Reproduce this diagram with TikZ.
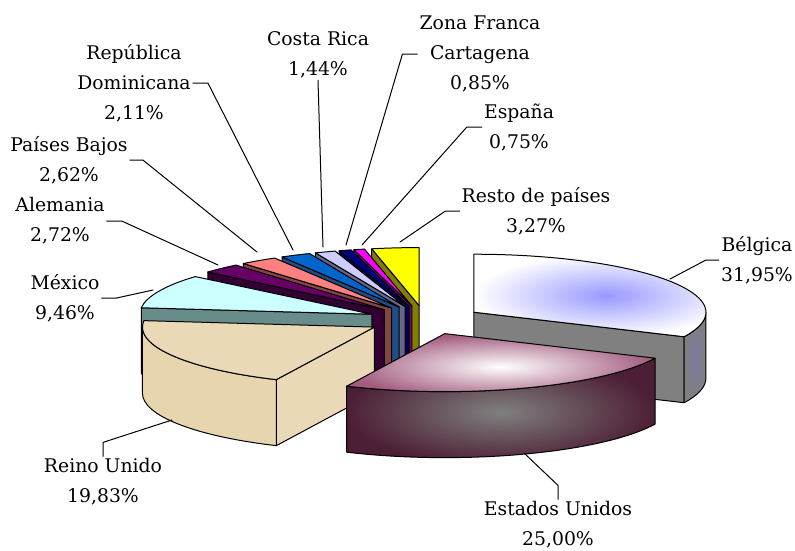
\documentclass[tikz,border=0pt]{standalone}
\usepackage{fontspec}
\setmainfont{DejaVu Serif}
\usetikzlibrary{calc}

\definecolor{belTop}{HTML}{9999FF}
\definecolor{belSide}{HTML}{7A7A9E}
\definecolor{euTop}{HTML}{A35C80}
\definecolor{euSide}{HTML}{4D1F36}
\definecolor{ruTop}{HTML}{E9D9B6}
\definecolor{mexTop}{HTML}{CCFFFF}
\definecolor{mexSide}{HTML}{678C89}
\definecolor{aleTop}{HTML}{660066}
\definecolor{aleSide}{HTML}{330033}
\definecolor{pbTop}{HTML}{FF8080}
\definecolor{pbSide}{HTML}{884444}
\definecolor{rdTop}{HTML}{0066CC}
\definecolor{rdSide}{HTML}{1F4E85}
\definecolor{crTop}{HTML}{CCCCFF}
\definecolor{crSide}{HTML}{666688}
\definecolor{zfTop}{HTML}{000080}
\definecolor{zfSide}{HTML}{000050}
\definecolor{espTop}{HTML}{FF00FF}
\definecolor{espSide}{HTML}{800080}
\definecolor{restTop}{HTML}{FFFF00}
\definecolor{restSide}{HTML}{808000}

\tikzset{
  edge/.style={draw=black, line width=1pt},
  leader/.style={draw=black, line width=1pt},
  lbl/.style={align=center, inner sep=2pt, font=\fontsize{18.8}{30}\selectfont},
}

\begin{document}
\begin{tikzpicture}[x=1pt, y=1pt, line join=round, line cap=round]
  \useasboundingbox (0,0) rectangle (795,-550);
  \def\rx{232} \def\ry{58} \def\h{66}
  \coordinate (O) at (425,-320);

  % small slices, from the back
  \foreach \s/\e/\tc/\sc in {90/101.772/restTop/restSide, 101.772/104.472/espTop/espSide,
      104.472/107.532/zfTop/zfSide, 107.532/112.716/crTop/crSide,
      112.716/120.312/rdTop/rdSide, 120.312/129.744/pbTop/pbSide,
      129.744/139.536/aleTop/aleSide, 139.536/173.592/mexTop/mexSide}{
    \pgfmathsetmacro\m{(\s+\e)/2}
    \coordinate (c) at ($(O)+({0.25*\rx*cos(\m)},{0.25*\ry*sin(\m)})$);
    \path[edge, fill=\sc] (c) -- ++({\rx*cos(\e)},{\ry*sin(\e)}) -- ++(0,-\h) -- ($(c)+(0,-\h)$) -- cycle;
    \path[edge, fill=\tc] (c) -- ++({\rx*cos(\s)},{\ry*sin(\s)})
      arc[start angle=\s, end angle=\e, x radius=\rx, y radius=\ry] -- cycle;
  }

  % Belgica
  \coordinate (cB) at ($(O)+({0.25*\rx*cos(32.49)},{0.25*\ry*sin(32.49)})$);
  \path[edge, fill=gray] (cB) -- ++({\rx*cos(-25.02)},{\ry*sin(-25.02)}) -- ++(0,-\h) -- ($(cB)+(0,-\h)$) -- cycle;
  \shadedraw[line width=1pt, inner color=belSide, outer color=gray]
    ($(cB)+({\rx*cos(-25.02)},{\ry*sin(-25.02)})$)
    arc[start angle=-25.02, end angle=0, x radius=\rx, y radius=\ry] -- ++(0,-\h)
    arc[start angle=0, end angle=-25.02, x radius=\rx, y radius=\ry] -- cycle;
  \shadedraw[line width=1pt, inner color=belTop, outer color=white]
    (cB) -- ++({\rx*cos(-25.02)},{\ry*sin(-25.02)})
    arc[start angle=-25.02, end angle=90, x radius=\rx, y radius=\ry] -- cycle;

  % Reino Unido
  \coordinate (cR) at ($(O)+({0.25*\rx*cos(-150.714)},{0.25*\ry*sin(-150.714)})$);
  \path[edge, fill=ruTop] (cR) -- ++({\rx*cos(-115.02)},{\ry*sin(-115.02)}) -- ++(0,-\h) -- ($(cR)+(0,-\h)$) -- cycle;
  \path[edge, fill=ruTop!95!brown]
    ($(cR)+(-\rx,0)$)
    arc[start angle=-180, end angle=-115.02, x radius=\rx, y radius=\ry] -- ++(0,-\h)
    arc[start angle=-115.02, end angle=-180, x radius=\rx, y radius=\ry] -- cycle;
  \path[edge, fill=ruTop] (cR) -- ++({\rx*cos(-186.408)},{\ry*sin(-186.408)})
    arc[start angle=-186.408, end angle=-115.02, x radius=\rx, y radius=\ry] -- cycle;

  % Estados Unidos
  \coordinate (cE) at ($(O)+({0.25*\rx*cos(-70.02)},{0.25*\ry*sin(-70.02)})$);
  \shadedraw[line width=1pt, inner color=gray, outer color=euSide]
    ($(cE)+({\rx*cos(-115.02)},{\ry*sin(-115.02)})$)
    arc[start angle=-115.02, end angle=-25.02, x radius=\rx, y radius=\ry] -- ++(0,-\h)
    arc[start angle=-25.02, end angle=-115.02, x radius=\rx, y radius=\ry] -- cycle;
  \shadedraw[line width=1pt, inner color=white, outer color=euTop]
    (cE) -- ++({\rx*cos(-115.02)},{\ry*sin(-115.02)})
    arc[start angle=-115.02, end angle=-25.02, x radius=\rx, y radius=\ry] -- cycle;

  % leader ends
  \coordinate (pBel) at (670,-279);
  \coordinate (pEU) at (524,-453);
  \coordinate (pRU) at (172,-420);
  \coordinate (pMex) at (153,-290);
  \coordinate (pAle) at (218,-265);
  \coordinate (pPB) at (257,-252);
  \coordinate (pRD) at (293,-250);
  \coordinate (pCR) at (323,-247);
  \coordinate (pZF) at (346,-245);
  \coordinate (pEsp) at (362,-245);
  \coordinate (pRest) at (400,-242);

  % labels
  \node[lbl] (bel) at (757,-260) {Bélgica\\31,95\%};
  \node[lbl] (eu) at (558,-525) {Estados Unidos\\25,00\%};
  \node[lbl] (ru) at (103,-482) {Reino Unido\\19,83\%};
  \node[lbl] (mex) at (65,-298) {México\\9,46\%};
  \node[lbl] (ale) at (60,-221) {Alemania\\2,72\%};
  \node[lbl] (pb) at (69,-160) {Países Bajos\\2,62\%};
  \node[lbl] (rd) at (134,-83) {República\\Dominicana\\2,11\%};
  \node[lbl] (cr) at (318,-55) {Costa Rica\\1,44\%};
  \node[lbl] (zf) at (480,-54) {Zona Franca\\Cartagena\\0,85\%};
  \node[lbl] (esp) at (519,-127) {España\\0,75\%};
  \node[lbl] (rest) at (536,-211) {Resto de países\\3,27\%};

  \draw[leader] (bel.west) -- ++(-13,0) -- (pBel);
  \draw[leader] (eu.north) -- ++(0,14) -- (pEU);
  \draw[leader] (ru.north) -- ++(0,14) -- (pRU);
  \draw[leader] (mex.east) -- ++(15,0) -- (pMex);
  \draw[leader] (ale.east) -- ++(15,0) -- (pAle);
  \draw[leader] (pb.east) -- ++(13,0) -- (pPB);
  \draw[leader] (rd.east) -- ++(15,0) -- (pRD);
  \draw[leader] (cr.south) -- (pCR);
  \draw[leader] (zf.west) -- ++(-15,0) -- (pZF);
  \draw[leader] (esp.west) -- ++(-15,0) -- (pEsp);
  \draw[leader] (rest.west) -- ++(-14,0) -- (pRest);
\end{tikzpicture}
\end{document}
